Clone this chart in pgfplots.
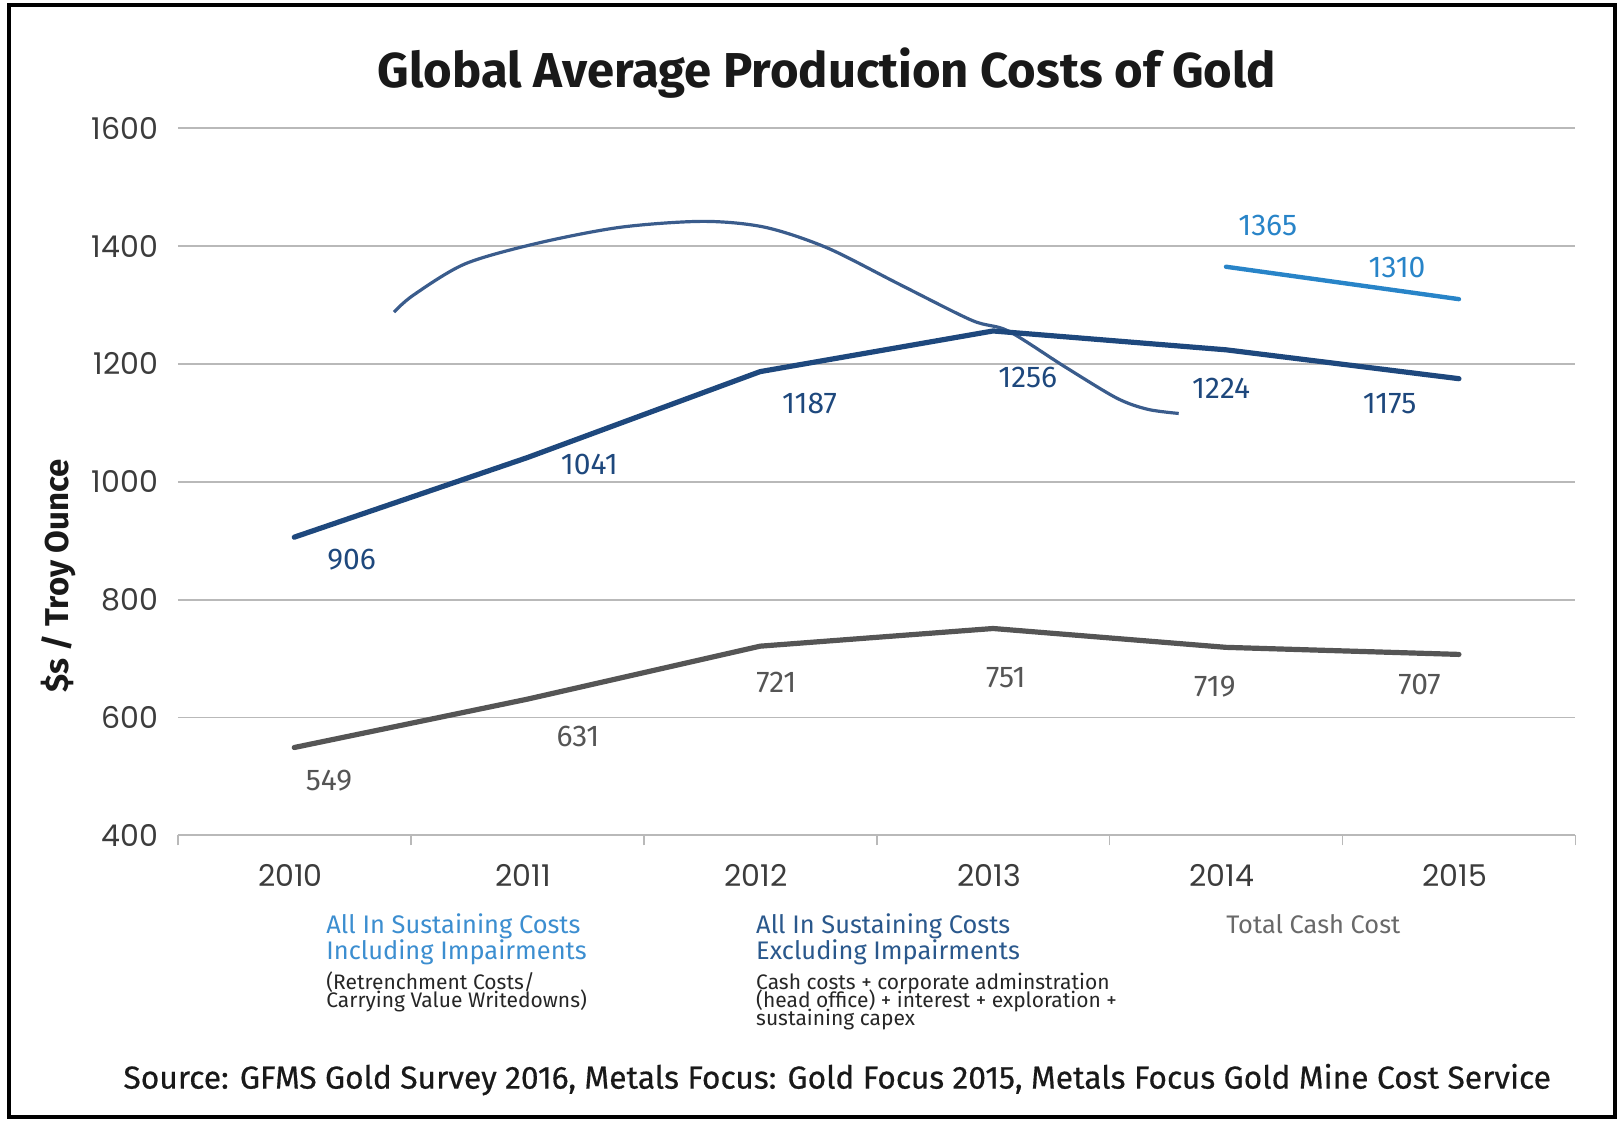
\documentclass[border=0pt]{standalone}
\usepackage{pgfplots}
\pgfplotsset{compat=1.18}
\usepackage{fontspec}
\setmainfont{Fira Sans}
\newfontfamily\pop{Poppins}
\newfontface\firamed[FakeBold=0.5]{Fira Sans}
\definecolor{dblue}{RGB}{30,72,125}
\definecolor{lblue}{RGB}{40,132,200}
\definecolor{dgray}{RGB}{85,85,85}
\definecolor{hand}{RGB}{58,92,140}
\definecolor{gridc}{RGB}{185,185,185}
\definecolor{tickc}{RGB}{60,60,60}
\definecolor{leg1}{RGB}{60,142,208}
\definecolor{leg2}{RGB}{42,88,140}
\definecolor{leg3}{RGB}{105,105,105}
\tikzset{dlab/.style={font=\fontsize{15}{17}\selectfont}}
\begin{document}
\begin{tikzpicture}
\useasboundingbox (0,0) rectangle (810.5pt,561.5pt);
\draw[black, line width=1.6pt] (4.5pt,3pt) rectangle (807.5pt,559pt);
\node[font=\fontsize{24.5}{27}\selectfont\bfseries, text=black!90] at (413.5pt,525pt) {Global Average Production Costs of Gold};
\node[rotate=90, font=\fontsize{16.5}{18}\selectfont\bfseries, text=black!90] at (29pt,273.5pt) {\$s / Troy Ounce};
\begin{axis}[
  at={(88.9pt,143.85pt)}, anchor=south west,
  scale only axis, width=698.8pt, height=353.5pt,
  xmin=-0.5, xmax=5.5, ymin=400, ymax=1600,
  xtick={0,1,2,3,4,5},
  xticklabels={2010,2011,2012,2013,2014,2015},
  ytick={400,600,...,1600},
  axis lines*=left,
  x axis line style={draw=gridc, line width=0.9pt},
  y axis line style={draw=none},
  ymajorgrids, grid style={gridc, line width=0.9pt},
  major tick length=0pt,
  extra x ticks={-0.5,0.5,1.5,2.5,3.5,4.5,5.5},
  extra x tick labels={},
  extra x tick style={grid=none, major tick length=5pt, tick align=outside, tick style={gridc, line width=0.9pt}},
  tick label style={font=\pop\fontsize{15}{16}\selectfont, text=tickc},
  xticklabel style={yshift=-11pt, xshift=-2pt},
  yticklabel style={xshift=-6.4pt},
  /pgf/number format/assume math mode=true,
  /pgf/number format/1000 sep={},
  clip=false,
]
% hand-drawn annotation curve
\addplot[hand, line width=1.6pt, smooth, tension=0.5] coordinates {
 (0.428,1288) (0.512,1317) (0.734,1370) (1.045,1405) (1.40,1432) (1.755,1442)
 (2.021,1432) (2.288,1397) (2.599,1335) (2.909,1274) (3.065,1256) (3.309,1195)
 (3.531,1142) (3.664,1123) (3.797,1116)};
% All In Sustaining Costs excluding impairments
\addplot[dblue, line width=2.6pt, line join=round, line cap=round] coordinates {
 (0,906) (1,1041) (2,1187) (3,1256) (4,1224) (5,1175)};
% All In Sustaining Costs including impairments
\addplot[lblue, line width=2.2pt, line cap=round] coordinates {
 (4,1365) (5,1310)};
% Total cash cost
\addplot[dgray, line width=2.6pt, line join=round, line cap=round] coordinates {
 (0,549) (1,631) (2,721) (3,751) (4,719) (5,707)};
\node[dlab, text=dblue] at (axis cs:0.246,868) {906};
\node[dlab, text=dblue] at (axis cs:1.267,1030) {1041};
\node[dlab, text=dblue] at (axis cs:2.212,1133) {1187};
\node[dlab, text=dblue] at (axis cs:3.149,1177) {1256};
\node[dlab, text=dblue] at (axis cs:3.979,1158) {1224};
\node[dlab, text=dblue] at (axis cs:4.702,1132) {1175};
\node[dlab, text=lblue] at (axis cs:4.179,1435) {1365};
\node[dlab, text=lblue] at (axis cs:4.734,1363) {1310};
\node[dlab, text=dgray] at (axis cs:0.149,493) {549};
\node[dlab, text=dgray] at (axis cs:1.218,568) {631};
\node[dlab, text=dgray] at (axis cs:2.070,660) {721};
\node[dlab, text=dgray] at (axis cs:3.055,667) {751};
\node[dlab, text=dgray] at (axis cs:3.952,653) {719};
\node[dlab, text=dgray] at (axis cs:4.831,656) {707};
\end{axis}
% legend texts below
\begin{scope}[every node/.style={anchor=base west, inner sep=0pt}]
\node[font=\fontsize{12.7}{14}\selectfont, text=leg1] at (163pt,94.75pt) {All In Sustaining Costs};
\node[font=\fontsize{12.7}{14}\selectfont, text=leg1] at (163pt,81.5pt) {Including Impairments};
\node[font=\fontsize{10.5}{11}\selectfont, text=black!85] at (163pt,66.5pt) {(Retrenchment Costs/};
\node[font=\fontsize{10.5}{11}\selectfont, text=black!85] at (163pt,57.6pt) {Carrying Value Writedowns)};
\node[font=\fontsize{12.7}{14}\selectfont, text=leg2] at (377.9pt,94.75pt) {All In Sustaining Costs};
\node[font=\fontsize{12.7}{14}\selectfont, text=leg2] at (377.9pt,81.5pt) {Excluding Impairments};
\node[font=\fontsize{10.5}{11}\selectfont, text=black!85] at (377.9pt,66.5pt) {Cash costs + corporate adminstration};
\node[font=\fontsize{10.5}{11}\selectfont, text=black!85] at (377.9pt,57.6pt) {(head office) + interest + exploration +};
\node[font=\fontsize{10.5}{11}\selectfont, text=black!85] at (377.9pt,48.7pt) {sustaining capex};
\node[font=\fontsize{12.7}{14}\selectfont, text=leg3] at (613pt,94.75pt) {Total Cash Cost};
\end{scope}
\node[anchor=base, inner sep=0pt, font=\firamed\fontsize{15.9}{17}\selectfont, text=black!90] at (418.6pt,17.2pt) {Source: GFMS Gold Survey 2016, Metals Focus: Gold Focus 2015, Metals Focus Gold Mine Cost Service};
\end{tikzpicture}
\end{document}
